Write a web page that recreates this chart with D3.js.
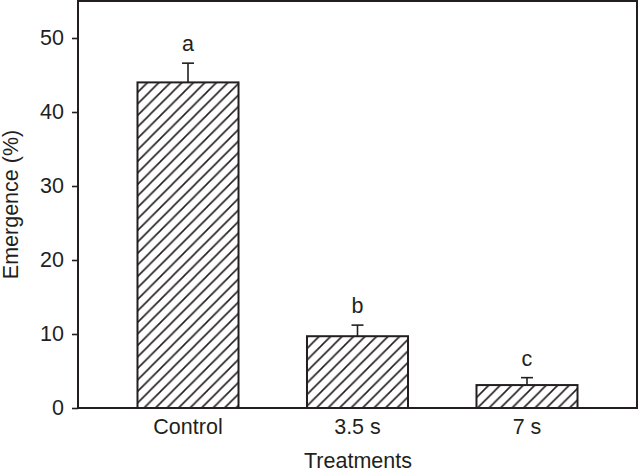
<!DOCTYPE html>
<html>
<head>
<meta charset="utf-8">
<script src="https://cdn.jsdelivr.net/npm/d3@7"></script>
<style>
  html, body { margin: 0; padding: 0; background: #fff; }
  svg { display: block; }
  text { font-family: "Liberation Sans", Arial, sans-serif; fill: #231f20; }
</style>
</head>
<body>
<script>
const categories = ["Control", "3.5 s", "7 s"];
const values = [44.0, 9.7, 3.1];
const errors = [2.6, 1.5, 1.0];
const letters = ["a", "b", "c"];
const yTicks = [0, 10, 20, 30, 40, 50];
const yLabel = "Emergence (%)";
const xLabel = "Treatments";

const W = 638, H = 474;
const m = { left: 78, right: 1, top: 1, bottom: 66 };
const ink = "#231f20";
const fs = 21.5;

const svg = d3.select("body").append("svg").attr("width", W).attr("height", H);

const defs = svg.append("defs");
const s = 11.5;
const pat = defs.append("pattern")
  .attr("id", "hatch").attr("patternUnits", "userSpaceOnUse")
  .attr("width", s).attr("height", s);
pat.append("rect").attr("width", s).attr("height", s).attr("fill", "#fff");
pat.append("path")
  .attr("d", `M0,${s} L${s},0 M${-s/2},${s/2} L${s/2},${-s/2} M${s/2},${s*1.5} L${s*1.5},${s/2}`)
  .attr("stroke", ink).attr("stroke-width", 1.6);

const x = d3.scaleBand().domain(categories)
  .range([m.left, W - m.right]).paddingInner(0.404).paddingOuter(0.351);
const y = d3.scaleLinear().domain([0, 55]).range([H - m.bottom, m.top]);

const g = svg.append("g");

// bars
g.selectAll("rect.bar").data(categories).join("rect")
  .attr("class", "bar")
  .attr("x", d => x(d)).attr("width", x.bandwidth())
  .attr("y", (d, i) => y(values[i]))
  .attr("height", (d, i) => y(0) - y(values[i]))
  .attr("fill", "url(#hatch)").attr("stroke", ink).attr("stroke-width", 2);

// error bars
const cap = 12;
categories.forEach((c, i) => {
  const cx = x(c) + x.bandwidth() / 2;
  const top = y(values[i] + errors[i]);
  g.append("line").attr("x1", cx).attr("x2", cx)
    .attr("y1", y(values[i])).attr("y2", top)
    .attr("stroke", ink).attr("stroke-width", 1.6);
  g.append("line").attr("x1", cx - cap / 2).attr("x2", cx + cap / 2)
    .attr("y1", top).attr("y2", top)
    .attr("stroke", ink).attr("stroke-width", 1.6);
  g.append("text").attr("x", cx).attr("y", top - 12)
    .attr("text-anchor", "middle").attr("font-size", fs).text(letters[i]);
});

// frame
svg.append("rect")
  .attr("x", m.left).attr("y", m.top)
  .attr("width", W - m.right - m.left).attr("height", y(0) - m.top)
  .attr("fill", "none").attr("stroke", ink).attr("stroke-width", 2);

// y axis
const yAxis = d3.axisLeft(y).tickValues(yTicks).tickSize(6).tickPadding(8).tickFormat(d3.format("d"));
const ya = svg.append("g").attr("transform", `translate(${m.left},0)`).call(yAxis);
ya.select(".domain").remove();
ya.selectAll(".tick line").attr("stroke", ink).attr("stroke-width", 1.6);
ya.selectAll(".tick text").attr("font-size", fs).attr("fill", ink)
  .attr("font-family", "Liberation Sans, Arial, sans-serif");

// x axis (labels only)
const xAxis = d3.axisBottom(x).tickSize(0).tickPadding(11);
const xa = svg.append("g").attr("transform", `translate(0,${y(0)})`).call(xAxis);
xa.select(".domain").remove();
xa.selectAll(".tick text").attr("font-size", fs).attr("fill", ink)
  .attr("font-family", "Liberation Sans, Arial, sans-serif");

// axis titles
svg.append("text").attr("x", (m.left + W - m.right) / 2 + 0.5).attr("y", 468)
  .attr("text-anchor", "middle").attr("font-size", fs).text(xLabel);
svg.append("text").attr("transform", `translate(18,${(m.top + y(0)) / 2}) rotate(-90)`)
  .attr("text-anchor", "middle").attr("font-size", fs).text(yLabel);
</script>
</body>
</html>
